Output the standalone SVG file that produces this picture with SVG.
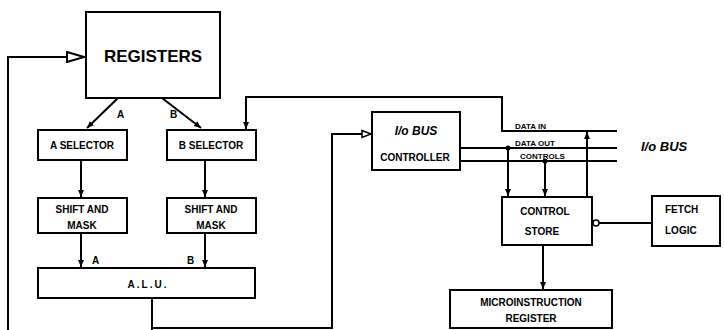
<svg xmlns="http://www.w3.org/2000/svg" width="724" height="330" viewBox="0 0 724 330">
<defs>
<style>
.box{fill:#fff;stroke:#000;stroke-width:2}
.ln{fill:none;stroke:#000;stroke-width:2}
.t{font-family:"Liberation Sans",Arial,sans-serif;font-weight:bold;fill:#000}
.s{font-size:10px}
.xs{font-size:8px}
</style>
<marker id="arr" markerWidth="8" markerHeight="8" refX="7" refY="4" orient="auto" markerUnits="userSpaceOnUse">
<path d="M0,1 L7,4 L0,7 Z" fill="#000"/>
</marker>
<marker id="open" markerWidth="20" markerHeight="12" refX="18" refY="6" orient="auto" markerUnits="userSpaceOnUse">
<path d="M1,1 L18,6 L1,11 Z" fill="#fff" stroke="#000" stroke-width="2"/>
</marker>
<marker id="opens" markerWidth="12" markerHeight="10" refX="10" refY="5" orient="auto" markerUnits="userSpaceOnUse">
<path d="M1,1.5 L10,5 L1,8.5 Z" fill="#fff" stroke="#000" stroke-width="1.5"/>
</marker>
<marker id="circ" markerWidth="10" markerHeight="10" refX="8" refY="5" orient="auto" markerUnits="userSpaceOnUse">
<circle cx="5" cy="5" r="3" fill="#fff" stroke="#000" stroke-width="1.5"/>
</marker>
</defs>

<g id="connectors">
<polyline class="ln" points="8,330 8,57 84,57" marker-end="url(#open)"/>
<line class="ln" x1="118" y1="98" x2="87" y2="128" marker-end="url(#arr)"/>
<line class="ln" x1="162" y1="98" x2="201" y2="128" marker-end="url(#arr)"/>
<polyline class="ln" points="617,131 502,131 502,97 246,97 246,129" marker-end="url(#arr)"/>
<line class="ln" x1="81" y1="161" x2="81" y2="197" marker-end="url(#arr)"/>
<line class="ln" x1="205" y1="161" x2="205" y2="197" marker-end="url(#arr)"/>
<line class="ln" x1="81" y1="234" x2="81" y2="267" marker-end="url(#arr)"/>
<line class="ln" x1="205" y1="234" x2="205" y2="267" marker-end="url(#arr)"/>
<line class="ln" x1="152" y1="298" x2="152" y2="330"/>
<polyline class="ln" points="152,328 332,328 332,134 371,134" marker-end="url(#opens)"/>
<line class="ln" x1="460" y1="148" x2="617" y2="148"/>
<line class="ln" x1="460" y1="161" x2="617" y2="161"/>
<line class="ln" x1="508" y1="148" x2="508" y2="196" marker-end="url(#arr)"/>
<line class="ln" x1="545" y1="161" x2="545" y2="196" marker-end="url(#arr)"/>
<line class="ln" x1="587" y1="197" x2="587" y2="132" marker-end="url(#arr)"/>
<circle cx="508" cy="148" r="2.5" fill="#000"/>
<circle cx="545" cy="161" r="2.5" fill="#000"/>
<line class="ln" x1="652" y1="223" x2="593" y2="223" marker-end="url(#circ)"/>
<line class="ln" x1="543" y1="246" x2="543" y2="289" marker-end="url(#arr)"/>
</g>

<g id="registers">
<rect class="box" x="86" y="12" width="134" height="86"/>
<text class="t" x="153" y="62" font-size="17" font-weight="normal" text-anchor="middle">REGISTERS</text>
</g>
<text class="t s" x="117" y="118">A</text>
<text class="t s" x="170" y="118">B</text>

<g id="a-selector">
<rect class="box" x="38" y="130" width="89" height="30"/>
<text class="t s" x="82" y="149" text-anchor="middle">A SELECTOR</text>
</g>
<g id="b-selector">
<rect class="box" x="167" y="130" width="89" height="30"/>
<text class="t s" x="211" y="149" text-anchor="middle">B SELECTOR</text>
</g>
<g id="shift-a">
<rect class="box" x="38" y="198" width="89" height="35"/>
<text class="t s" x="82" y="213" text-anchor="middle">SHIFT AND</text>
<text class="t s" x="82" y="229" text-anchor="middle">MASK</text>
</g>
<g id="shift-b">
<rect class="box" x="167" y="198" width="89" height="35"/>
<text class="t s" x="211" y="213" text-anchor="middle">SHIFT AND</text>
<text class="t s" x="211" y="229" text-anchor="middle">MASK</text>
</g>
<text class="t s" x="92" y="264">A</text>
<text class="t s" x="187" y="264">B</text>
<g id="alu">
<rect class="box" x="38" y="268" width="217" height="30"/>
<text class="t s" x="148" y="288" text-anchor="middle" letter-spacing="2">A.L.U.</text>
</g>

<g id="io-bus-controller">
<rect class="box" x="372" y="112" width="88" height="58"/>
<text class="t" x="416" y="135" font-size="12" font-style="italic" text-anchor="middle">I/o BUS</text>
<text class="t s" x="415" y="161" text-anchor="middle">CONTROLLER</text>
</g>

<text class="t xs" x="515" y="129">DATA IN</text>
<text class="t xs" x="515" y="146">DATA OUT</text>
<text class="t xs" x="520" y="159">CONTROLS</text>
<text class="t" x="641" y="151" font-size="13" font-style="italic">I/o BUS</text>

<g id="control-store">
<rect class="box" x="502" y="197" width="90" height="48"/>
<text class="t s" x="545" y="215" text-anchor="middle">CONTROL</text>
<text class="t s" x="542" y="235" text-anchor="middle">STORE</text>
</g>
<g id="fetch-logic">
<rect class="box" x="652" y="196" width="68" height="50"/>
<text class="t s" x="665" y="213">FETCH</text>
<text class="t s" x="665" y="234">LOGIC</text>
</g>
<g id="microinstruction-register">
<rect class="box" x="450" y="290" width="162" height="38"/>
<text class="t s" x="531" y="306" text-anchor="middle">MICROINSTRUCTION</text>
<text class="t s" x="531" y="322" text-anchor="middle">REGISTER</text>
</g>
</svg>
